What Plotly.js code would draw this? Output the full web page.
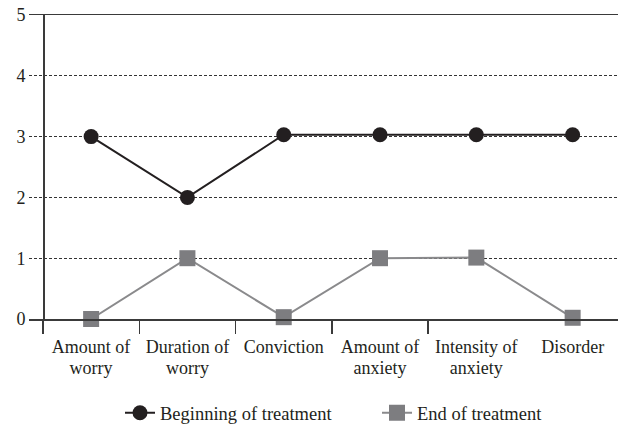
<!DOCTYPE html>
<html>
<head>
<meta charset="utf-8">
<script src="https://cdn.plot.ly/plotly-3.0.1.min.js"></script>
<style>html,body{margin:0;padding:0;background:#fff;}#chart{width:618px;height:427px;}</style>
</head>
<body>
<div id="chart"></div>
<script>
const categories = ["Amount of worry", "Duration of worry", "Conviction", "Amount of anxiety", "Intensity of anxiety", "Disorder"];
const labelLine1 = ["Amount of", "Duration of", "Conviction", "Amount of", "Intensity of", "Disorder"];
const labelLine2 = ["worry", "worry", "", "anxiety", "anxiety", ""];
const beginning = [3, 2, 3.03, 3.03, 3.03, 3.03];
const endTreatment = [0, 1, 0.03, 1, 1.01, 0.02];
const yTicks = [0, 1, 2, 3, 4, 5];

const idx = categories.map((c, i) => i);
const boundaries = categories.slice(0, -1).map((c, i) => i - 0.5);
const font = "Liberation Serif, Times New Roman, serif";
const xr = [-0.645, 5.471];

const traces = [
  {x: idx, y: beginning, name: "Beginning of treatment", type: "scatter", mode: "lines+markers", cliponaxis: false,
   line: {color: "#231f20", width: 2}, marker: {symbol: "circle", size: 15, color: "#231f20"}},
  {x: idx, y: endTreatment, name: "End of treatment", type: "scatter", mode: "lines+markers", cliponaxis: false,
   line: {color: "#8a8a8c", width: 2}, marker: {symbol: "square", size: 16, color: "#7d7d80"}},
  {x: idx, y: beginning, xaxis: "x2", type: "scatter", mode: "none", showlegend: false, hoverinfo: "skip"},
  {x: idx, y: beginning, xaxis: "x3", type: "scatter", mode: "none", showlegend: false, hoverinfo: "skip"}
];

const layout = {
  width: 618, height: 427,
  margin: {l: 29, r: 0, t: 15, b: 108, autoexpand: false},
  paper_bgcolor: "#fff", plot_bgcolor: "#fff",
  font: {family: font, size: 18, color: "#231f20"},
  showlegend: true,
  legend: {orientation: "h", x: 91/589, xanchor: "left", y: -0.31, yanchor: "middle",
           font: {family: font, size: 18.5, color: "#231f20"}, entrywidth: 212, tracegroupgap: 0},
  xaxis: {range: xr, tickvals: idx, ticktext: labelLine1, ticks: "", showgrid: false, zeroline: false,
          showline: true, mirror: true, linecolor: "#3a3a3a", linewidth: 1.5, automargin: false,
          tickfont: {family: font, size: 18, color: "#231f20"}, ticklabelstandoff: 11, fixedrange: true},
  xaxis2: {overlaying: "x", anchor: "y", side: "bottom", range: xr, tickvals: boundaries,
           ticks: "outside", ticklen: 14, tickwidth: 1.5, tickcolor: "#3a3a3a", automargin: false,
           showticklabels: false, showgrid: false, zeroline: false, showline: false},
  xaxis3: {overlaying: "x", anchor: "y", side: "bottom", range: xr, tickvals: idx, ticktext: labelLine2,
           ticks: "", showgrid: false, zeroline: false, showline: false, automargin: false,
           tickfont: {family: font, size: 18, color: "#231f20"}, ticklabelstandoff: 36},
  yaxis: {range: [0, 5], tickvals: yTicks, ticktext: yTicks.map(String), anchor: "free", position: 14/589,
          showline: true, linecolor: "#3a3a3a", linewidth: 1.5, ticks: "", zeroline: false,
          showgrid: true, gridcolor: "#333", gridwidth: 1, griddash: "3px,2px",
          tickfont: {family: font, size: 18, color: "#231f20"}, ticklabelstandoff: 14, fixedrange: true}
};

Plotly.newPlot("chart", traces, layout, {displayModeBar: false, staticPlot: true});
</script>
</body>
</html>
